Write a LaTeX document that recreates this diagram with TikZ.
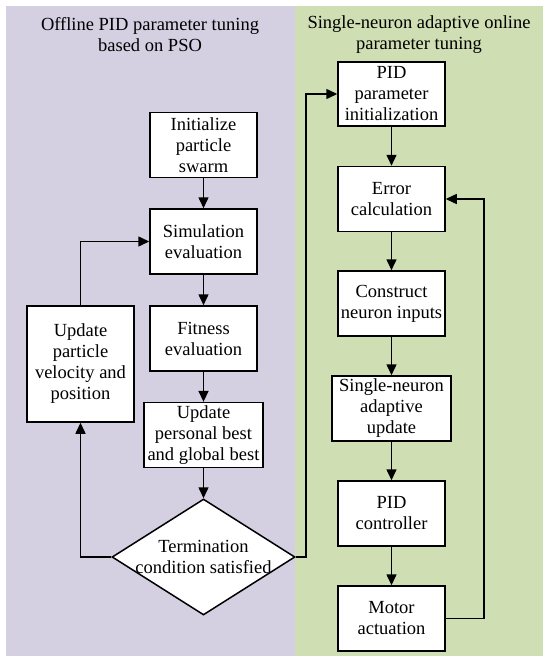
\documentclass[tikz,border=0pt]{standalone}
\usepackage{fontspec}
\setmainfont{Liberation Serif}
\usepackage{xcolor}
\usepackage{tikz}
\usetikzlibrary{shapes.geometric, arrows.meta, positioning, calc}
\definecolor{offlinepurple}{RGB}{213, 207, 226}
\definecolor{onlinegreen}{RGB}{207, 222, 179}

\begin{document}
\begin{tikzpicture}[
    x=1pt, y=-1pt,
    font=\fontsize{18.5}{21}\selectfont,
    procbox/.style={rectangle, draw=black, line width=1.5pt, fill=white, minimum width=107pt, minimum height=65pt, inner sep=3pt, align=center},
    decision/.style={diamond, draw=black, line width=1.5pt, fill=white, minimum width=183pt, minimum height=116pt, inner sep=0pt},
    flow/.style={line width=1.5pt, -{Triangle[length=11pt, width=10pt]}}
]
\useasboundingbox (0,0) rectangle (550,664);

% Panels
\fill[offlinepurple] (6,6) rectangle (295,656);
\fill[onlinegreen] (295,6) rectangle (543,656);
\node[align=center] (offtitle) at (150,35) {Offline PID parameter tuning\\based on PSO};
\node[align=center] (ontitle) at (419,35) {Single-neuron adaptive online\\parameter tuning};

% Offline PSO tuning
\node[procbox] (init) at (203.5,145) {Initialize\\particle\\swarm};
\node[procbox] (sim) at (203.5,241.5) {Simulation\\evaluation};
\node[procbox] (fit) at (203.5,338.5) {Fitness\\evaluation};
\node[procbox, minimum width=119pt, minimum height=64pt] (best) at (203.5,435) {Update\\personal best\\and global best};
\node[procbox, minimum height=116pt] (velo) at (80.5,364) {Update\\particle\\velocity and\\position};
\node[decision, label={[align=center]center:Termination\\condition satisfied}] (term) at (203.5,557) {};

% Online neuron tuning
\node[procbox, minimum height=64pt] (pidinit) at (391.5,94) {PID\\parameter\\initialization};
\node[procbox] (err) at (391.5,199) {Error\\calculation};
\node[procbox] (inputs) at (391.5,303.5) {Construct\\neuron inputs};
\node[procbox, minimum width=119pt] (neuron) at (391.5,408.5) {Single-neuron\\adaptive\\update};
\node[procbox] (pid) at (391.5,513.5) {PID\\controller};
\node[procbox] (motor) at (391.5,618.5) {Motor\\actuation};

% Arrows
\draw[flow] (init) -- (sim);
\draw[flow] (sim) -- (fit);
\draw[flow] (fit) -- (best);
\draw[flow] (best) -- (term);
\draw[flow] (term.west) -| (velo);
\draw[flow] (velo) |- (sim);
\draw[flow] (term.east) -- ++(10,0) |- (pidinit);
\draw[flow] (pidinit) -- (err);
\draw[flow] (err) -- (inputs);
\draw[flow] (inputs) -- (neuron);
\draw[flow] (neuron) -- (pid);
\draw[flow] (pid) -- (motor);
\draw[flow] (motor.east) -- ++(38,0) |- (err.east);
\end{tikzpicture}
\end{document}
